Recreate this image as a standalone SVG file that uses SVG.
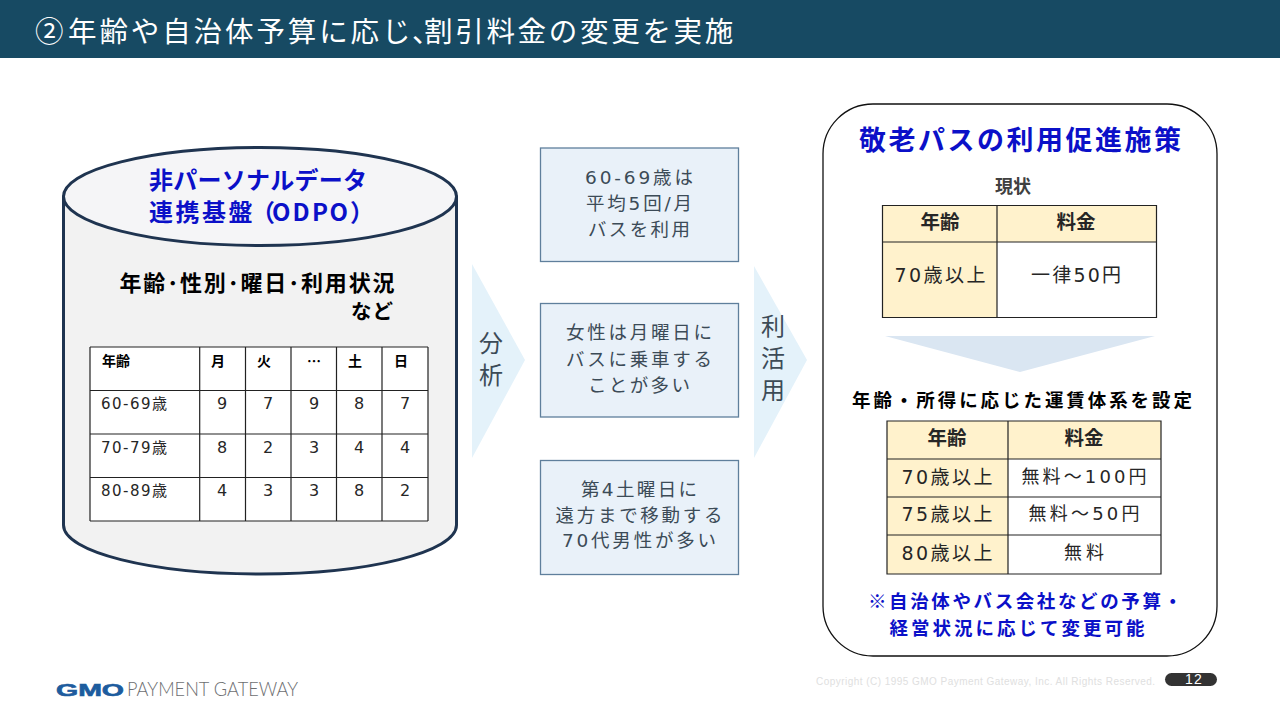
<svg xmlns="http://www.w3.org/2000/svg" width="1280" height="720" viewBox="0 0 1280 720">
<style>
text{font-family:"Noto Sans CJK JP","Noto Sans",sans-serif;text-anchor:middle;fill:#262626}
.b{font-weight:700}
.blue{fill:#0b10c8;font-weight:700}
.dark{fill:#000;font-weight:700}
.grid{fill:none;stroke:#222;stroke-width:1.2}
.box{fill:#e9f1f9;stroke:#5f7f9c;stroke-width:1.3}
.c14{font-size:14px}
.d15{font-family:"DejaVu Sans","Noto Sans CJK JP",sans-serif;font-size:15px}
.d16{font-family:"DejaVu Sans","Noto Sans CJK JP",sans-serif;font-size:16px}
.c18{font-family:"DejaVu Sans","Noto Sans CJK JP",sans-serif;font-size:18px}
.c19{font-family:"DejaVu Sans","Noto Sans CJK JP",sans-serif;font-size:19px}
.h19{font-size:19.500px}
.m{font-family:"DejaVu Sans","Noto Sans CJK JP",sans-serif;fill:#3c4b57;font-size:18.500px}
.arrow{fill:#e4f2fa}
.v{fill:#3c4b57;font-size:24px}
.tan{fill:#fff2cc}
.latin{font-family:"Liberation Sans",sans-serif;text-anchor:start}
</style>
<rect width="1280" height="720" fill="#fff"/>
<g id="header">
<rect width="1280" height="58" fill="#174a63"/>
<text y="42" x="35 68 99.400 130.800 162.200 193.600 225 256.400 287.800 319.200 350.600 382 412 424 455.200 486.400 517.600 548.800 580 611.200 642.400 673.600 704.800" style="text-anchor:start;fill:#fff;font-size:28.500px">②年齢や自治体予算に応じ、割引料金の変更を実施</text>
</g>
<g id="cylinder">
<path d="M63.500 197V525C63.500 552 151 574 260 574S456.500 552 456.500 525V197Z" fill="#f2f2f2" stroke="#1f3450" stroke-width="3"/>
<ellipse cx="260" cy="196.500" rx="196.500" ry="49" fill="#f5f5f7" stroke="#1f3450" stroke-width="3"/>
<text x="258" y="189" class="blue" font-size="24" textLength="218">非パーソナルデータ</text>
<text y="221" x="149 175.500 202 228.500 251 272 292.500 312 329.500 350" class="blue" font-size="24" style="text-anchor:start">連携基盤（ODPO）</text>
<text x="257" y="291" class="dark" font-size="22" textLength="275">年齢･性別･曜日･利用状況</text>
<text x="372" y="319" class="dark" font-size="20.500" textLength="42">など</text>
</g>
<g id="data-table">
<rect x="90" y="347" width="338" height="174" fill="#fff"/>
<path class="grid" d="M90 347H428M90 390.500H428M90 434H428M90 477.500H428M90 521H428M90 347V521M199.700 347V521M245.500 347V521M291 347V521M336.500 347V521M382 347V521M428 347V521"/>
<text x="116" y="366" class="dark c14">年齢</text><text x="218" y="366" class="dark c14">月</text><text x="264" y="366" class="dark c14">火</text><text x="314" y="366" class="dark c14">…</text><text x="355" y="366" class="dark c14">土</text><text x="401" y="366" class="dark c14">日</text>
<text x="134" y="409" class="d15" textLength="66">60-69歳</text><text x="222" y="409" class="d16">9</text><text x="268" y="409" class="d16">7</text><text x="314" y="409" class="d16">9</text><text x="359" y="409" class="d16">8</text><text x="405" y="409" class="d16">7</text>
<text x="134" y="453" class="d15" textLength="66">70-79歳</text><text x="222" y="453" class="d16">8</text><text x="268" y="453" class="d16">2</text><text x="314" y="453" class="d16">3</text><text x="359" y="453" class="d16">4</text><text x="405" y="453" class="d16">4</text>
<text x="134" y="496" class="d15" textLength="66">80-89歳</text><text x="222" y="496" class="d16">4</text><text x="268" y="496" class="d16">3</text><text x="314" y="496" class="d16">3</text><text x="359" y="496" class="d16">8</text><text x="405" y="496" class="d16">2</text>
</g>
<g id="finding-1"><rect class="box" x="540.500" y="148" width="198" height="113.500"/>
<text x="639" y="184" class="m" textLength="108">60-69歳は</text><text x="639" y="210" class="m" textLength="106">平均5回/月</text><text x="639" y="236" class="m" textLength="102">バスを利用</text></g>
<g id="finding-2"><rect class="box" x="540.500" y="303.500" width="198" height="113.500"/>
<text x="639" y="339" class="m" textLength="146">女性は月曜日に</text><text x="639" y="366" class="m" textLength="146">バスに乗車する</text><text x="639" y="392" class="m" textLength="102">ことが多い</text></g>
<g id="finding-3"><rect class="box" x="540.500" y="460.500" width="198" height="114"/>
<text x="639" y="496" class="m" textLength="116">第4土曜日に</text><text x="639" y="522" class="m" textLength="167">遠方まで移動する</text><text x="639" y="547" class="m" textLength="154">70代男性が多い</text></g>
<g id="policy">
<rect x="823" y="104" width="394" height="552" rx="50" fill="#fff" stroke="#111" stroke-width="1.300"/>
<text x="1020" y="150" class="blue" font-size="27" textLength="322">敬老パスの利用促進施策</text>
<text x="1013" y="193" class="b" font-size="18" style="fill:#404040">現状</text>
<rect class="tan" x="882.500" y="205.500" width="274" height="36.500"/><rect class="tan" x="882.500" y="242" width="114.500" height="75.500"/>
<path class="grid" d="M882.500 205.500H1156.500V317.500H882.500ZM882.500 242H1156.500M997 205.500V317.500"/>
<text x="940" y="229" class="b h19">年齢</text><text x="1076" y="229" class="b h19">料金</text>
<text x="940" y="282" class="c19" textLength="91">70歳以上</text><text x="1076" y="282" class="c19" textLength="90">一律50円</text>
<text x="1022" y="407" class="dark" font-size="18.500" textLength="340">年齢・所得に応じた運賃体系を設定</text>
<rect class="tan" x="887" y="421" width="274" height="38"/><rect class="tan" x="887" y="459" width="121" height="115"/>
<path class="grid" d="M887 421H1161V574H887ZM887 459H1161M887 497H1161M887 535H1161M1008 421V574"/>
<text x="947" y="445" class="b h19">年齢</text><text x="1084" y="445" class="b h19">料金</text>
<text x="947" y="484" class="c19" textLength="91">70歳以上</text><text x="1084" y="483" class="c18" textLength="125">無料～100円</text>
<text x="947" y="521" class="c19" textLength="91">75歳以上</text><text x="1084" y="520" class="c18" textLength="111">無料～50円</text>
<text x="947" y="560" class="c19" textLength="91">80歳以上</text><text x="1084" y="559" class="c18" textLength="40">無料</text>
<text x="1025" y="608" class="blue" font-size="18.500" textLength="314">※自治体やバス会社などの予算・</text>
<text x="1017" y="635" class="blue" font-size="18.500" textLength="255">経営状況に応じて変更可能</text>
</g>
<g id="connectors">
<polygon class="arrow" points="472,264 525,360 472,458"/>
<polygon class="arrow" points="754,266 807,360 754,458"/>
<polygon points="885,336 1155,336 1020,372" fill="#dae6f2"/>
</g>
<g id="arrow-label-analysis"><text x="491" y="352" class="v">分</text><text x="491" y="384" class="v">析</text></g>
<g id="arrow-label-use"><text x="773" y="335" class="v">利</text><text x="773" y="367" class="v">活</text><text x="773" y="399" class="v">用</text></g>
<g id="footer">
<text x="56" y="696" textLength="68" lengthAdjust="spacingAndGlyphs" class="latin" style="font-weight:700;font-size:17px;fill:#1d5c9e;stroke:#1d5c9e;stroke-width:.6">GMO</text>
<text x="127" y="696" textLength="171" lengthAdjust="spacingAndGlyphs" style="text-anchor:start;font-family:Lato,sans-serif;font-weight:300;font-size:19px;fill:#6d6e71">PAYMENT GATEWAY</text>
<text x="816" y="685" textLength="339" class="latin" style="font-size:10px;fill:#e0e0e0">Copyright (C) 1995 GMO Payment Gateway, Inc. All Rights Reserved.</text>
<rect x="1165" y="673" width="52" height="13" rx="6.500" fill="#333"/>
<text y="684" x="1185 1194" class="latin" style="font-size:14px;fill:#fff">12</text>
</g>
</svg>
